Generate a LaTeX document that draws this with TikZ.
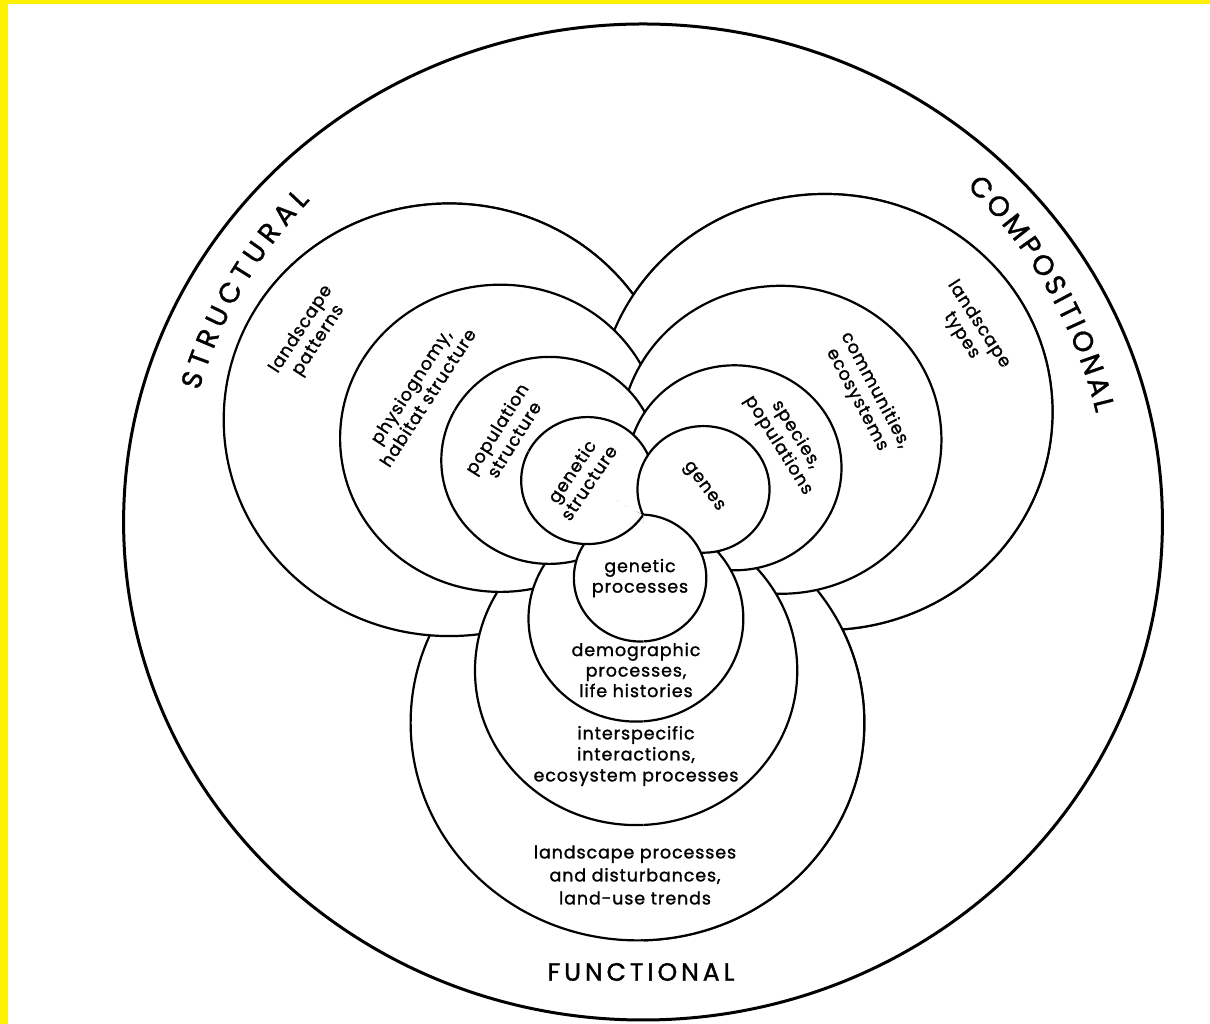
\documentclass[tikz,border=0pt]{standalone}
\usepackage{fontspec}
\setmainfont{Poppins}
\newfontfamily\lab[LetterSpace=5, FakeBold=1.3]{Poppins}
\newfontfamily\capfont[FakeBold=1.3]{Poppins}
\newfontfamily\funfont[LetterSpace=16, FakeBold=1.3]{Poppins}
\usetikzlibrary{decorations.text}
\begin{document}
\begin{tikzpicture}[x=1pt,y=1pt]
\useasboundingbox (0,0) rectangle (1210,1024);
\fill[white] (0,0) rectangle (1210,1024);
\fill[yellow] (0,0) rectangle (7.5,1024);
\fill[yellow] (0,1020.3) rectangle (1210,1024);
\tikzset{ring/.style={draw=black, fill=white, line width=2.2pt},
  lbl/.style={font=\lab\fontsize{17.5}{20.5}\selectfont, align=center, inner sep=0pt}}
\begin{scope}[xscale=1.043]
  \draw[line width=3pt] (616.5,502) circle (498);
  \coordinate (S1) at (430.7,604.2);
  \coordinate (S2) at (479.6,585.7);
  \coordinate (S3) at (526.5,563.6);
  \coordinate (S4) at (563.1,543.4);
  \coordinate (C1) at (791,612);
  \coordinate (C2) at (748.5,584.2);
  \coordinate (C3) at (704.2,556.2);
  \coordinate (C4) at (674.4,534.6);
  \coordinate (F1) at (611.1,301.1);
  \coordinate (F2) at (609.8,353.4);
  \coordinate (F3) at (609.6,405.4);
  \coordinate (F4) at (613.6,446);
  % order A
  \path[ring] (F1) circle (217.5);
  \path[ring] (S1) circle (216.3);
  \path[ring] (C1) circle (218);
  \path[ring] (F2) circle (154.5);
  \path[ring] (S2) circle (153.6);
  \path[ring] (C2) circle (154);
  \path[ring] (F3) circle (103);
  \path[ring] (S3) circle (103.5);
  \path[ring] (C3) circle (102.5);
  \path[ring] (F4) circle (63.5);
  \path[ring] (S4) circle (63.5);
  \path[ring] (C4) circle (63.3);
  % order B outside the structural-functional sector
  \begin{scope}
    \clip (616.8,509) -- (616.8,-100) -- (1400,-100) -- (1400,1200) -- (-200,1200) -- (-200,980.6) -- cycle;
    \path[ring] (S1) circle (216.3);
    \path[ring] (C1) circle (218);
    \path[ring] (F1) circle (217.5);
    \path[ring] (S2) circle (153.6);
    \path[ring] (C2) circle (154);
    \path[ring] (F2) circle (154.5);
    \path[ring] (S3) circle (103.5);
    \path[ring] (C3) circle (102.5);
    \path[ring] (F3) circle (103);
    \path[ring] (S4) circle (63.5);
    \path[ring] (C4) circle (63.3);
    \path[ring] (F4) circle (63.5);
  \end{scope}
\end{scope}
% rotated labels
\node[lbl, rotate=57] (tLP) at (310,689) {landscape\\patterns};
\node[lbl, rotate=57] (tPH) at (419,632) {physiognomy,\\habitat structure};
\node[lbl, rotate=58] (tPS) at (505,590) {population\\structure};
\node[lbl, rotate=56] (tGS) at (580,547) {genetic\\structure};
\node[lbl, rotate=-53] (tGE) at (703,537) {genes};
\node[lbl, rotate=-58] (tSP) at (787,584) {species,\\populations};
\node[lbl, rotate=-62] (tCO) at (866,629) {communities,\\ecosystems};
\node[lbl, rotate=-57] (tLT) at (970,694) {landscape\\types};
% horizontal labels
\node[lbl] (tGP) at (640,446) {genetic\\processes};
\node[lbl] (tDE) at (636,354) {demographic\\processes,\\life histories};
\node[lbl, font=\lab\fontsize{17.5}{21}\selectfont] (tIN) at (636,268) {interspecific\\interactions,\\ecosystem processes};
\node[lbl, font=\lab\fontsize{17.5}{23}\selectfont] (tLA) at (635,149) {landscape processes\\and disturbances,\\land-use trends};
\node[font=\funfont\fontsize{25}{25}\selectfont, inner sep=0pt] (tFU) at (641,52) {FUNCTIONAL};
% arc labels
\path[decorate, decoration={text along path, text align={fit to path},
  text={|\capfont\fontsize{28}{28}\selectfont|STRUCTURAL}}]
  (643,502) ++(163.5:463) arc[start angle=163.5, end angle=136, radius=463];
\path[decorate, decoration={text along path, text align={fit to path},
  text={|\capfont\fontsize{28}{28}\selectfont|COMPOSITIONAL}}]
  (643,502) ++(46:466) arc[start angle=46, end angle=13.5, radius=466];
\end{tikzpicture}
\end{document}
